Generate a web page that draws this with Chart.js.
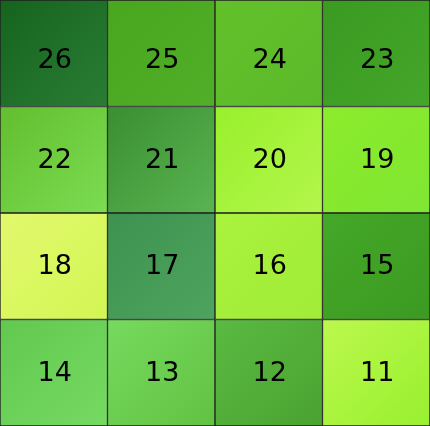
<!DOCTYPE html>
<html>
<head>
<meta charset="utf-8">
<script src="https://cdn.jsdelivr.net/npm/chart.js@4/dist/chart.umd.min.js"></script>
<style>
html,body{margin:0;padding:0;background:#fff;}
#wrap{width:430px;height:426px;position:relative;}
</style>
</head>
<body>
<div id="wrap"><canvas id="c"></canvas></div>
<script>
// Grid columns and rows (top row first)
const columns = ['C1', 'C2', 'C3', 'C4'];
const row1 = [26, 25, 24, 23];
const row2 = [22, 21, 20, 19];
const row3 = [18, 17, 16, 15];
const row4 = [14, 13, 12, 11];
// Cell colours (gradient start = top-left, end = bottom-right)
const colorsStart1 = ['#15641d', '#48a61f', '#62c12a', '#3a9a22'];
const colorsEnd1   = ['#2a7c34', '#50ae28', '#5cb92a', '#44a62a'];
const colorsStart2 = ['#62be2e', '#3a8f30', '#98f02c', '#8cec2c'];
const colorsEnd2   = ['#7cdc52', '#5ab452', '#b4f64c', '#80e632'];
const colorsStart3 = ['#e2f86c', '#3e9250', '#aaf23e', '#44a828'];
const colorsEnd3   = ['#d2f654', '#4ea45e', '#a0ec36', '#3c9a22'];
const colorsStart4 = ['#62c850', '#76da5e', '#5aba42', '#bcf84c'];
const colorsEnd4   = ['#76da62', '#62c242', '#4aa230', '#98f030'];

const rows = [row1, row2, row3, row4];
const starts = [colorsStart1, colorsStart2, colorsStart3, colorsStart4];
const ends = [colorsEnd1, colorsEnd2, colorsEnd3, colorsEnd4];

function makeBg(ri, stackIndex) {
  return function(ctx) {
    const chart = ctx.chart;
    const i = ctx.dataIndex;
    const xs = chart.scales.x, ys = chart.scales.y;
    if (!chart.chartArea || !xs || !ys || ctx.type !== 'data') return starts[ri][i];
    const cx = xs.getPixelForValue(i);
    const half = chart.chartArea.width / columns.length / 2;
    const x0 = cx - half, x1 = cx + half;
    const y0 = ys.getPixelForValue(stackIndex + 1), y1 = ys.getPixelForValue(stackIndex);
    if (![x0, x1, y0, y1].every(isFinite)) return starts[ri][i];
    const g = chart.ctx.createLinearGradient(x0, y0, x1, y1);
    g.addColorStop(0, starts[ri][i]);
    g.addColorStop(1, ends[ri][i]);
    return g;
  };
}

// Datasets stacked from bottom row upward
const datasets = [];
for (let r = rows.length - 1; r >= 0; r--) {
  const stackIndex = rows.length - 1 - r;
  datasets.push({
    label: 'row' + (r + 1),
    data: rows[r].map(() => 1),
    values: rows[r],
    labelShift: r === 0 ? 7 : 0,
    backgroundColor: makeBg(r, stackIndex),
    borderColor: '#1e1e1e',
    borderWidth: 1,
    borderSkipped: false,
    barPercentage: 1,
    categoryPercentage: 1
  });
}

const labelPlugin = {
  id: 'cellLabels',
  afterDatasetsDraw(chart) {
    const ctx = chart.ctx;
    ctx.save();
    ctx.font = '27px "DejaVu Sans"';
    ctx.fillStyle = '#000';
    ctx.textAlign = 'center';
    ctx.textBaseline = 'middle';
    chart.data.datasets.forEach((ds, di) => {
      const meta = chart.getDatasetMeta(di);
      meta.data.forEach((el, i) => {
        const cy = (el.y + el.base) / 2;
        ctx.fillText(String(ds.values[i]), el.x + 1, cy + 1 + ds.labelShift);
      });
    });
    ctx.restore();
  }
};

new Chart(document.getElementById('c'), {
  type: 'bar',
  data: { labels: columns, datasets: datasets },
  options: {
    responsive: true,
    maintainAspectRatio: false,
    animation: false,
    layout: { padding: 0 },
    plugins: { legend: { display: false }, tooltip: { enabled: false } },
    scales: {
      x: { display: false, stacked: true, offset: true },
      y: { display: false, stacked: true, min: 0, max: 4 }
    }
  },
  plugins: [labelPlugin]
});
</script>
</body>
</html>
